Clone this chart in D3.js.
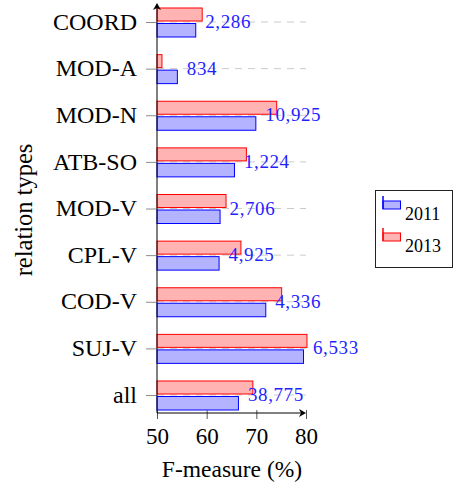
<!DOCTYPE html>
<html>
    <style>
        body{
            margin: 0;
            background: #fff;
        }
    </style>
    <body>
        <script src="https://cdn.jsdelivr.net/npm/d3@7"></script>
        <script>
        // relation types, F-measure per year and number of instances
        var categories = ["COORD", "MOD-A", "MOD-N", "ATB-SO", "MOD-V", "CPL-V", "COD-V", "SUJ-V", "all"];
        var f2011 = [57.8, 54.1, 69.9, 65.6, 62.7, 62.5, 71.9, 79.5, 66.4];
        var f2013 = [59.1, 51.0, 74.1, 68.0, 63.9, 66.9, 75.1, 80.2, 69.3];
        var counts = ["2,286", "834", "10,925", "1,224", "2,706", "4,925", "4,336", "6,533", "38,775"];
        var xTicks = [50, 60, 70, 80];
        var years = ["2011", "2013"];

        var width = 454, height = 486;
        var axisY = 413;
        var serif = "'Liberation Serif', 'DejaVu Serif', serif";

        var svg = d3.select("body").append("svg")
            .attr("width", width)
            .attr("height", height)
            .style("font-family", serif);

        var x = d3.scaleLinear()
            .domain([50, 80])
            .range([157, 306]);

        var y = d3.scalePoint()
            .domain(categories)
            .range([22, 395]);

        var data = categories.map((c, i) => ({
            cat: c, v2011: f2011[i], v2013: f2013[i], n: counts[i]
        }));

        // dashed grid lines
        svg.append("g")
            .selectAll("line")
            .data(categories)
            .enter()
            .append("line")
                .attr("x1", x(50))
                .attr("x2", x(80))
                .attr("y1", d => y(d))
                .attr("y2", d => y(d))
                .attr("stroke", "#cbcbcb")
                .attr("stroke-width", 1)
                .attr("stroke-dasharray", "7,6");

        // y axis (category labels + grey ticks)
        var yAxis = svg.append("g")
            .attr("transform", "translate(" + x(50) + ",0)")
            .call(d3.axisLeft(y).tickSize(11).tickPadding(9))
            .attr("font-family", null);
        yAxis.select(".domain").remove();
        yAxis.selectAll("line").attr("stroke", "#8c8c8c");
        yAxis.selectAll("text")
            .style("font-family", serif)
            .attr("font-size", 24)
            .attr("fill", "#000")
            .attr("dy", "0.3em");

        // bars: 2013 above, 2011 below
        var bars = svg.append("g");
        bars.selectAll(".b2013")
            .data(data)
            .enter()
            .append("rect")
                .attr("class", "b2013")
                .attr("x", x(50))
                .attr("y", d => y(d.cat) - 14)
                .attr("width", d => x(d.v2013) - x(50))
                .attr("height", 13)
                .attr("fill", "#ffb3b3")
                .attr("stroke", "red");
        bars.selectAll(".b2011")
            .data(data)
            .enter()
            .append("rect")
                .attr("class", "b2011")
                .attr("x", x(50))
                .attr("y", d => y(d.cat) + 1.5)
                .attr("width", d => x(d.v2011) - x(50))
                .attr("height", 13.5)
                .attr("fill", "#b3b3ff")
                .attr("stroke", "blue");

        // instance counts
        svg.append("g")
            .selectAll("text")
            .data(data)
            .enter()
            .append("text")
                .style("font-family", serif)
                .attr("x", d => x(d.v2011) + 9.5)
                .attr("y", d => y(d.cat) + 6)
                .attr("font-size", 19)
                .attr("letter-spacing", 0.6)
                .attr("fill", "#1f1fff")
                .text(d => d.n);

        // x axis
        var xAxis = svg.append("g")
            .attr("transform", "translate(0," + axisY + ")")
            .call(d3.axisBottom(x).tickValues(xTicks).tickSize(6).tickPadding(9))
            .attr("font-family", null);
        xAxis.select(".domain").remove();
        xAxis.selectAll("line").attr("stroke", "#555").attr("y1", -3);
        xAxis.selectAll("text")
            .style("font-family", serif)
            .attr("font-size", 23)
            .attr("fill", "#000");

        // axis lines with arrow heads
        svg.append("line")
            .attr("x1", x(50)).attr("x2", x(80) - 2)
            .attr("y1", axisY).attr("y2", axisY)
            .attr("stroke", "#000");
        svg.append("line")
            .attr("x1", x(50)).attr("x2", x(50))
            .attr("y1", axisY).attr("y2", 6)
            .attr("stroke", "#000");
        svg.append("path")
            .attr("d", "M" + x(80) + "," + axisY + " l-7,-4 l2,4 l-2,4 Z")
            .attr("fill", "#000");
        svg.append("path")
            .attr("d", "M" + x(50) + ",3 l-4,7 l4,-2 l4,2 Z")
            .attr("fill", "#000");

        // axis titles
        svg.append("text")
            .style("font-family", serif)
            .attr("x", 232)
            .attr("y", 477)
            .attr("text-anchor", "middle")
            .attr("font-size", 23.5)
            .text("F-measure (%)");
        svg.append("text")
            .style("font-family", serif)
            .attr("transform", "translate(32,210) rotate(-90)")
            .attr("text-anchor", "middle")
            .attr("font-size", 24.5)
            .text("relation types");

        // legend
        var legend = svg.append("g");
        legend.append("rect")
            .attr("x", 375.5).attr("y", 190.5)
            .attr("width", 77).attr("height", 77)
            .attr("fill", "#fff")
            .attr("stroke", "#222");
        var legFill = ["#b3b3ff", "#ffb3b3"], legStroke = ["blue", "red"];
        var items = legend.selectAll(".item")
            .data(years)
            .enter()
            .append("g")
                .attr("transform", (d, i) => "translate(0," + (i * 32) + ")");
        items.append("rect")
            .attr("x", 383).attr("y", 201)
            .attr("width", 17.5).attr("height", 8)
            .attr("fill", (d, i) => legFill[i])
            .attr("stroke", (d, i) => legStroke[i]);
        items.append("line")
            .attr("x1", 383).attr("x2", 383)
            .attr("y1", 196).attr("y2", 209)
            .attr("stroke", (d, i) => legStroke[i])
            .attr("stroke-width", 1.5);
        items.append("text")
            .style("font-family", serif)
            .attr("x", 405)
            .attr("y", 220)
            .attr("font-size", 18)
            .text(d => d);
        </script>
    </body>
</html>
